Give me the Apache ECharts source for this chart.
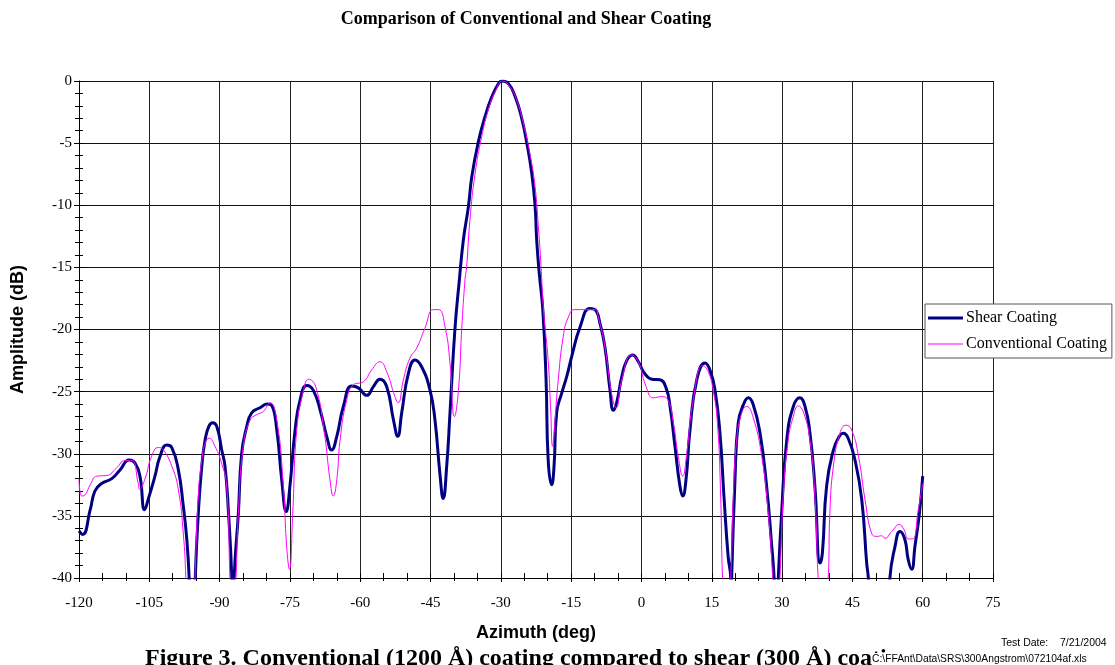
<!DOCTYPE html>
<html>
<head>
<meta charset="utf-8">
<title>Comparison of Conventional and Shear Coating</title>
<script src="https://cdn.jsdelivr.net/npm/echarts@6/dist/echarts.min.js"></script>
<style>
  html, body { margin: 0; padding: 0; background: #fff; }
  #chart { width: 1115px; height: 665px; }
</style>
</head>
<body>
<div id="chart"></div>
<script>
// azimuth (deg) / amplitude (dB); dips below -40 are clipped by the axis
const shearAz = [
  -120, -119.2, -117.6, -116.6, -115.2, -113.0, -111.25, -109.3, -108.05, -107.0,
  -106.0, -105.1, -103.8, -102.7, -101.3, -100.2, -98.8, -97.75, -97.0, -96.5,
  -96.1, -95.6, -95.2, -94.55, -93.8, -93.1, -92.3, -91.5, -90.6, -89.55,
  -88.85, -88.1, -87.4, -87.15, -86.9, -86.0, -85.3, -84.2, -83.15, -81.4,
  -79.8, -78.9, -77.8, -76.75, -75.8, -75.0, -73.9, -72.85, -71.4, -70.0,
  -68.4, -67.15, -66.1, -65.0, -63.6, -61.8, -60.4, -58.6, -57.2, -55.8,
  -54.35, -52.9, -52.0, -51.15, -49.7, -48.3, -46.9, -45.1, -44.05, -43.0,
  -42.3, -41.55, -40.85, -39.8, -38.85, -38.0, -36.9, -36.2, -34.8, -33.4,
  -31.95, -30.5, -29.8, -28.4, -26.9, -25.55, -24.5, -23.4, -22.7, -22.35,
  -21.8, -21.05, -20.35, -19.9, -19.15, -18.65, -18.1, -17.0, -15.95, -14.9,
  -13.1, -11.0, -9.9, -8.85, -7.8, -6.7, -6.0, -5.3, -4.2, -3.15,
  -1.9, -0.65, 0.6, 2.2, 3.95, 5.25, 6.1, 7.15, 8.2, 8.8,
  9.5, 10.35, 11.8, 13.55, 14.6, 15.7, 16.75, 17.6, 18.5, 19.05,
  19.15, 19.25, 19.95, 20.65, 21.75, 22.8, 23.85, 25.3, 26.7, 27.8,
  28.3, 28.75, 29.2, 29.9, 31.0, 32.4, 33.8, 34.9, 35.95, 37.0,
  38.1, 38.6, 39.5, 40.95, 42.2, 43.1, 44.1, 45.55, 47.0, 48.05,
  48.4, 49.5, 52.0, 53.0, 54.1, 55.15, 56.2, 56.9, 57.65, 58.35,
  59.3, 60.0
];
const shearDb = [
  -36.2, -36.5, -34.5, -33.0, -32.4, -32.0, -31.3, -30.5, -30.75, -31.8,
  -34.5, -33.5, -31.8, -30.2, -29.3, -29.5, -31.3, -34.2, -36.9, -40,
  -46, -46, -40, -34.8, -31.0, -28.9, -27.8, -27.5, -27.8, -29.7,
  -31.0, -34.8, -40, -45, -40, -34.8, -30.0, -27.8, -26.7, -26.3,
  -26.0, -26.1, -28.1, -32.1, -34.65, -32.6, -28.1, -25.7, -24.5, -24.9,
  -26.7, -28.6, -29.7, -28.6, -26.2, -24.55, -24.7, -25.3, -24.6, -24.0,
  -24.6, -27.3, -28.6, -26.7, -23.5, -22.45, -23.0, -24.9, -27.3, -31.6,
  -33.6, -31.0, -26.7, -20.0, -16.0, -12.8, -10.05, -7.7, -4.9, -2.9,
  -1.3, -0.2, 0, -0.2, -1.3, -3.0, -4.9, -7.45, -10.05, -12.8,
  -15.5, -18.4, -24.05, -30.5, -32.5, -31.0, -26.7, -25.1, -23.8, -22.2,
  -19.8, -18.3, -18.4, -19.5, -21.4, -24.9, -26.5, -25.9, -23.8, -22.5,
  -22.05, -22.6, -23.5, -24.0, -24.05, -24.7, -26.2, -29.4, -32.6, -33.4,
  -32.1, -28.1, -24.05, -22.7, -23.25, -24.9, -28.35, -33.4, -38.3, -40,
  -43, -40, -32.1, -27.5, -26.05, -25.5, -26.05, -28.35, -32.6, -37.45,
  -40, -45, -40, -34.8, -28.9, -26.2, -25.5, -26.2, -28.35, -32.6,
  -38.8, -38.0, -32.6, -29.7, -28.6, -28.35, -28.75, -30.5, -33.7, -38.8,
  -40, -48, -48, -40, -37.45, -36.25, -36.9, -38.5, -39.3, -37.45,
  -34.8, -31.8
];

const convAz = [
  -120, -119.4, -118.7, -117.6, -116.2, -114.1, -112.0, -110.2, -108.75, -107.35,
  -107.1, -105.9, -104.5, -103.1, -102.0, -100.2, -98.8, -97.75, -97.2, -96.6,
  -95.8, -95.25, -94.55, -93.8, -93.1, -92.2, -91.0, -89.8, -88.5, -87.8,
  -87.2, -86.5, -86.0, -84.95, -83.5, -82.1, -80.7, -79.25, -77.8, -76.4,
  -75.7, -75.1, -74.4, -73.55, -72.1, -71.0, -69.5, -67.7, -66.45, -65.75,
  -65.0, -64.3, -62.9, -61.45, -59.3, -57.55, -55.8, -54.35, -52.6, -51.9,
  -50.8, -49.4, -47.95, -46.2, -44.4, -43.3, -41.9, -40.85, -39.9, -39.05,
  -38.35, -37.65, -37.3, -36.6, -35.5, -34.1, -32.7, -31.25, -29.6, -28.0,
  -26.6, -25.2, -23.8, -22.7, -22.0, -21.5, -20.9, -19.9, -19.4, -18.95,
  -18.45, -17.75, -16.7, -15.6, -14.2, -11.7, -9.9, -9.2, -7.8, -6.4,
  -5.4, -4.2, -2.1, -0.65, 0.9, 2.55, 4.3, 5.7, 6.8, 7.85,
  8.8, 9.65, 11.05, 13.1, 14.25, 15.3, 16.2, 16.9, 17.3, 18.2,
  19.05, 19.6, 20.3, 21.4, 22.45, 23.85, 25.65, 27.05, 28.0, 28.8,
  29.55, 30.25, 31.3, 32.4, 33.45, 34.5, 35.95, 37.0, 37.7, 38.8,
  39.85, 40.2, 40.95, 42.35, 43.65, 44.85, 46.3, 47.7, 49.1, 50.2,
  51.25, 51.95, 53.4, 55.0, 56.0, 56.9, 57.85, 59.05, 60.0
];
const convDb = [
  -32.0, -33.4, -33.3, -32.5, -31.8, -31.75, -31.15, -30.55, -30.55, -32.4,
  -32.85, -32.0, -30.2, -29.5, -29.7, -31.0, -32.9, -36.4, -40, -46,
  -46, -40, -33.4, -30.5, -29.15, -28.75, -29.4, -30.5, -32.6, -40,
  -46, -40, -34.8, -29.4, -27.3, -26.85, -26.6, -25.9, -27.3, -32.6,
  -37.45, -39.3, -34.8, -28.1, -24.9, -24.0, -24.6, -28.2, -32.1, -33.4,
  -32.1, -28.9, -25.7, -24.45, -24.2, -23.25, -22.6, -23.4, -25.4, -25.9,
  -24.05, -22.3, -21.5, -19.9, -18.4, -18.4, -19.8, -22.7, -27.0, -24.9,
  -20.0, -16.0, -14.95, -11.2, -7.45, -4.5, -2.35, -0.9, 0, -0.5,
  -1.55, -3.4, -5.85, -8.5, -11.7, -14.4, -18.4, -22.5, -26.2, -29.4,
  -27.3, -24.05, -20.6, -19.0, -18.4, -18.4, -18.4, -19.0, -21.4, -25.1,
  -26.3, -24.05, -22.05, -22.6, -24.5, -25.5, -25.4, -25.7, -27.5, -30.2,
  -31.8, -30.0, -25.7, -22.9, -23.4, -24.9, -27.5, -33.4, -40, -46,
  -40, -33.4, -28.9, -26.7, -26.2, -27.1, -30.2, -34.8, -40, -46,
  -40, -33.4, -28.9, -27.0, -26.15, -26.6, -28.9, -33.4, -40, -46,
  -40, -34.8, -31.0, -28.35, -27.7, -28.1, -30.2, -33.7, -36.4, -36.65,
  -36.6, -36.8, -36.25, -35.7, -36.1, -36.85, -36.85, -34.5, -32.4
];

const xTicks = { min: -120, max: 75, step: 15 };
const yTicks = { min: -40, max: 0, step: 5 };

const pairs = (xs, ys) => xs.map((x, i) => [x, ys[i]]);

const serifFont = '"Liberation Serif", "Times New Roman", serif';
const sansFont = '"Liberation Sans", Arial, sans-serif';

const chart = echarts.init(document.getElementById('chart'));

chart.setOption({
  animation: false,
  backgroundColor: '#fff',
  grid: {
    left: 79,
    right: 122,
    top: 81,
    bottom: 87,
  },
  legend: {
    left: 925,
    top: 304,
    orient: 'vertical',
    padding: [6, 5, 6, 3],
    itemGap: 10,
    itemWidth: 35,
    itemHeight: 16,
    symbolKeepAspect: true,
    backgroundColor: '#fff',
    borderColor: '#555',
    borderWidth: 1,
    textStyle: {
      fontFamily: serifFont,
      fontSize: 16,
      color: '#000',
      padding: [0, 0, 0, -2],
    },
    data: [
      { name: 'Shear Coating', icon: 'path://M0,0L35,0L35,3L0,3Z' },
      { name: 'Conventional Coating', icon: 'path://M0,0L35,0L35,1L0,1Z' },
    ],
  },
  xAxis: [
    {
      type: 'value',
      min: xTicks.min,
      max: xTicks.max,
      interval: xTicks.step,
      name: 'Azimuth (deg)',
      nameLocation: 'middle',
      nameGap: 46,
      nameTextStyle: {
        fontFamily: sansFont,
        fontWeight: 'bold',
        fontSize: 18,
        color: '#000',
      },
      axisLine: { onZero: false, lineStyle: { color: '#000', width: 1 } },
      axisTick: { length: 4, lineStyle: { color: '#000' } },
      minorTick: { show: true, splitNumber: 3, length: 3, lineStyle: { color: '#000' } },
      axisLabel: {
        margin: 18,
        fontFamily: serifFont,
        fontSize: 15,
        color: '#000',
      },
      splitLine: { show: true, lineStyle: { color: '#222', width: 1 } },
    },
    {
      // same scale again, only to draw the inner half of the tick marks
      type: 'value',
      position: 'bottom',
      min: xTicks.min,
      max: xTicks.max,
      interval: xTicks.step,
      axisLine: { show: false, onZero: false },
      axisTick: { inside: true, length: 5, lineStyle: { color: '#000' } },
      minorTick: { show: true, splitNumber: 3, length: 5, lineStyle: { color: '#000' } },
      axisLabel: { show: false },
      splitLine: { show: false },
    },
  ],
  yAxis: [
    {
      type: 'value',
      min: yTicks.min,
      max: yTicks.max,
      interval: yTicks.step,
      name: 'Amplitude (dB)',
      nameLocation: 'middle',
      nameGap: 52,
      nameTextStyle: {
        fontFamily: sansFont,
        fontWeight: 'bold',
        fontSize: 18,
        color: '#000',
      },
      axisLine: { show: true, onZero: false, lineStyle: { color: '#000', width: 1 } },
      axisTick: { show: true, length: 5, lineStyle: { color: '#000' } },
      minorTick: { show: true, splitNumber: 5, length: 4, lineStyle: { color: '#000' } },
      axisLabel: {
        margin: 7,
        fontFamily: serifFont,
        fontSize: 15,
        color: '#000',
      },
      splitLine: { show: true, lineStyle: { color: '#111', width: 1 } },
    },
    {
      type: 'value',
      position: 'left',
      min: yTicks.min,
      max: yTicks.max,
      interval: yTicks.step,
      axisLine: { show: false, onZero: false },
      axisTick: { show: true, inside: true, length: 4, lineStyle: { color: '#000' } },
      minorTick: { show: true, splitNumber: 5, length: 4, lineStyle: { color: '#000' } },
      axisLabel: { show: false },
      splitLine: { show: false },
    },
  ],
  series: [
    {
      name: 'Shear Coating',
      type: 'line',
      data: pairs(shearAz, shearDb),
      showSymbol: false,
      symbol: 'none',
      smooth: 0.5,
      clip: true,
      z: 3,
      lineStyle: { color: '#000080', width: 3 },
      itemStyle: { color: '#000080' },
    },
    {
      name: 'Conventional Coating',
      type: 'line',
      data: pairs(convAz, convDb),
      showSymbol: false,
      symbol: 'none',
      smooth: 0.5,
      clip: true,
      z: 4,
      lineStyle: { color: '#ff00ff', width: 1 },
      itemStyle: { color: '#ff00ff' },
    },
  ],
  graphic: [
    {
      type: 'text',
      x: 526,
      y: 19,
      style: {
        text: 'Comparison of Conventional and Shear Coating',
        font: 'bold 18px ' + serifFont,
        fill: '#000',
        textAlign: 'center',
        textVerticalAlign: 'middle',
      },
    },
    {
      type: 'text',
      x: 1001,
      y: 643,
      style: {
        text: 'Test Date:    7/21/2004',
        font: '10.5px ' + sansFont,
        fill: '#000',
        textVerticalAlign: 'middle',
      },
    },
    {
      type: 'text',
      x: 145,
      y: 647,
      z: 1,
      style: {
        text: 'Figure 3. Conventional (1200 Å) coating compared to shear (300 Å) coating',
        font: 'bold 24px ' + serifFont,
        fill: '#000',
        textVerticalAlign: 'top',
      },
    },
    {
      type: 'text',
      x: 872,
      y: 659,
      z: 2,
      style: {
        text: 'C:\\FFAnt\\Data\\SRS\\300Angstrom\\072104af.xls',
        font: '10.3px ' + sansFont,
        fill: '#000',
        backgroundColor: '#fff',
        padding: [1, 0, 1, 0],
        textVerticalAlign: 'middle',
      },
    },
  ],
});
</script>
</body>
</html>
